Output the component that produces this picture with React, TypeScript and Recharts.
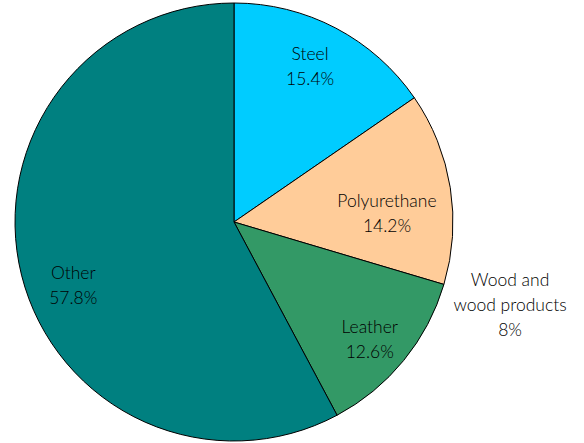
import { PieChart, Pie, Cell } from "recharts";

// materials, clockwise from 12 o'clock
const MATERIALS = ["Steel", "Polyurethane", "Wood and wood products", "Leather", "Other"];
// drawn share of the circle (the wood slice is drawn with no visible width)
const SHARES = [15.4, 14.2, 0, 12.6, 57.8];
// printed labels, as shown on the chart
const LABEL_LINES = [
  ["Steel", "15.4%"],
  ["Polyurethane", "14.2%"],
  ["Wood and", "wood products", "8%"],
  ["Leather", "12.6%"],
  ["Other", "57.8%"],
];
const COLOURS = ["#00ccff", "#ffcc99", "#ffffff", "#339966", "#008080"];

// label placement: [radius as fraction of outer radius, angle nudge in degrees]
const LABEL_PLACE = [
  [0.795, 1.8],
  [0.7, -5.3],
  [1.315, 0],
  [0.816, -1.3],
  [0.788, 7.3],
];

const RAD = Math.PI / 180;
const FONT = "Lato, 'Open Sans', sans-serif";

const data = MATERIALS.map((name, i) => ({ name, value: SHARES[i] }));

function SliceLabel(props: any) {
  const { cx, cy, midAngle, outerRadius, index } = props;
  const [f, shift] = LABEL_PLACE[index];
  const a = (midAngle + shift) * RAD;
  const r = outerRadius * f;
  const x = cx + r * Math.cos(a);
  const y = cy - r * Math.sin(a);
  const lines = LABEL_LINES[index];
  const lh = 25;
  const y0 = y - ((lines.length - 1) * lh) / 2;
  return (
    <text
      x={x}
      y={y0}
      textAnchor="middle"
      dominantBaseline="central"
      fontFamily={FONT}
      fontWeight={300}
      fontSize={17.5}
      fill="#000"
    >
      {lines.map((t, k) => (
        <tspan key={k} x={x} y={y0 + k * lh}>
          {t}
        </tspan>
      ))}
    </text>
  );
}

export default function App() {
  return (
    <div style={{ position: "absolute", left: 0, top: 0, width: 584, height: 443, background: "#fff" }}>
      <PieChart width={584} height={443} margin={{ top: 0, right: 0, bottom: 0, left: 0 }}>
        <Pie
          data={data}
          dataKey="value"
          nameKey="name"
          cx={234}
          cy={222}
          outerRadius={219}
          innerRadius={0}
          startAngle={90}
          endAngle={-270}
          stroke="#000"
          strokeWidth={1}
          label={SliceLabel}
          labelLine={false}
          isAnimationActive={false}
        >
          {data.map((d, i) => (
            <Cell key={d.name} fill={COLOURS[i]} />
          ))}
        </Pie>
      </PieChart>
    </div>
  );
}
